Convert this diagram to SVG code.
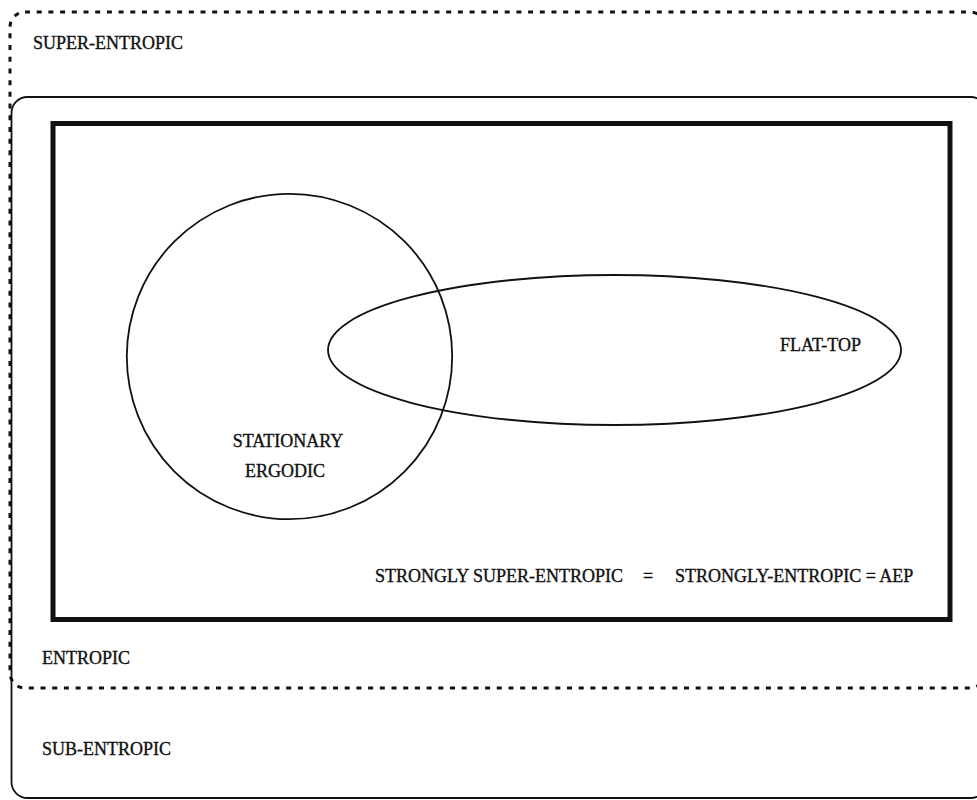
<svg xmlns="http://www.w3.org/2000/svg" width="977" height="800" viewBox="0 0 977 800">
<style>
text{font-family:"Liberation Serif","Times New Roman",serif;font-size:18px;fill:#111;stroke:#111;stroke-width:0.35}
.dash{fill:none;stroke:#111;stroke-width:3;stroke-dasharray:5 6.7}
.thin{fill:none;stroke:#111;stroke-width:1.8}
.thick{fill:none;stroke:#111;stroke-width:5}
</style>
<rect width="977" height="800" fill="#fff"/>
<g id="super-entropic">
<rect class="dash" x="10" y="12" width="975" height="676" rx="15" ry="15"/>
<text x="33" y="49">SUPER-ENTROPIC</text>
</g>
<g id="sub-entropic">
<rect class="thin" x="11.5" y="97" width="975" height="701" rx="16" ry="16"/>
<text x="42" y="755">SUB-ENTROPIC</text>
</g>
<g id="entropic">
<text x="42" y="664">ENTROPIC</text>
</g>
<g id="aep">
<rect class="thick" x="53" y="123.5" width="897" height="496"/>
<text x="375" y="582">STRONGLY SUPER-ENTROPIC</text>
<text x="643" y="582">=</text>
<text x="675" y="582">STRONGLY-ENTROPIC = AEP</text>
</g>
<g id="stationary-ergodic">
<circle class="thin" cx="289.5" cy="356.5" r="162.7"/>
<text x="288" y="447" text-anchor="middle">STATIONARY</text>
<text x="285" y="477" text-anchor="middle">ERGODIC</text>
</g>
<g id="flat-top">
<ellipse class="thin" cx="614.5" cy="350" rx="286.5" ry="75"/>
<text x="780" y="351">FLAT-TOP</text>
</g>
</svg>
